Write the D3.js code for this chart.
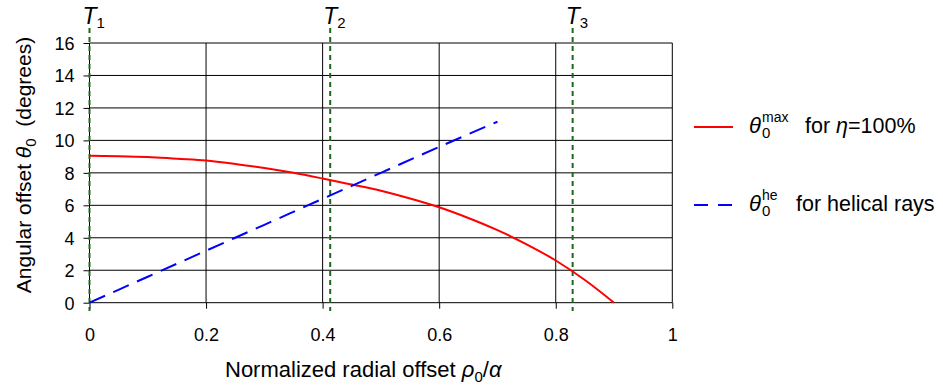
<!DOCTYPE html>
<html>
<head>
<meta charset="utf-8">
<script src="https://cdn.jsdelivr.net/npm/d3@7"></script>
<style>
body { margin: 0; background: #fff; }
svg { font-family: "Liberation Sans", Arial, sans-serif; }
</style>
</head>
<body>
<svg id="chart" width="943" height="388"></svg>
<script>
// normalized radial offset rho0/a and the max angular offset for 100% efficiency
const rhoMax = [0, 0.05, 0.1, 0.15, 0.2, 0.25, 0.3, 0.35, 0.4, 0.45, 0.5, 0.55, 0.6, 0.65, 0.7, 0.75, 0.8, 0.85, 0.9];
const thetaMax = [9.05, 9.03, 8.98, 8.87, 8.76, 8.55, 8.3, 8.0, 7.65, 7.28, 6.9, 6.42, 5.88, 5.22, 4.47, 3.6, 2.6, 1.4, 0];

// helical rays
const rhoHe = [0, 0.1, 0.2, 0.3, 0.4, 0.5, 0.6, 0.7];
const thetaHe = [0, 1.6, 3.2, 4.8, 6.4, 8.0, 9.6, 11.15];

const xTicks = [0, 0.2, 0.4, 0.6, 0.8, 1];
const yTicks = [0, 2, 4, 6, 8, 10, 12, 14, 16];

// transition points T1..T3
const tNames = ["1", "2", "3"];
const tRho = [0, 0.413, 0.829];

const svg = d3.select("#chart");

const x = d3.scaleLinear().domain([0, 1]).range([89.5, 672.3]);
const y = d3.scaleLinear().domain([0, 16]).range([302.7, 43]);

// grid
const grid = svg.append("g").attr("stroke", "#000").attr("stroke-width", 1);
grid.selectAll(".hg").data(yTicks).join("line")
    .attr("x1", x(0)).attr("x2", x(1))
    .attr("y1", d => y(d)).attr("y2", d => y(d));
grid.selectAll(".vg").data(xTicks).join("line")
    .attr("x1", d => x(d)).attr("x2", d => x(d))
    .attr("y1", y(16)).attr("y2", y(0));

// axes
let xAxis = svg.append("g")
    .attr("transform", `translate(0, ${y(0)})`)
    .call(d3.axisBottom(x).tickValues(xTicks).tickSize(6).tickFormat(d3.format("")));
xAxis.select(".domain").remove();
xAxis.selectAll("text")
    .attr("y", 38).attr("dy", 0)
    .attr("font-size", 18).attr("font-family", null).attr("fill", "#000");

let yAxis = svg.append("g")
    .attr("transform", `translate(${x(0)}, 0)`)
    .call(d3.axisLeft(y).tickValues(yTicks).tickSize(6).tickPadding(9));
yAxis.select(".domain").remove();
yAxis.selectAll("text")
    .attr("dy", "0.35em")
    .attr("font-size", 18).attr("font-family", null).attr("fill", "#000");

// T lines
const tg = svg.append("g");
tg.selectAll("line").data(tRho).join("line")
    .attr("x1", d => x(d)).attr("x2", d => x(d))
    .attr("y1", 28).attr("y2", 311)
    .attr("stroke", "#1b6a1b").attr("stroke-width", 2)
    .attr("stroke-dasharray", "5,4");
let tLab = tg.selectAll("text").data(tRho).join("text")
    .attr("x", d => x(d) - 7).attr("y", 24)
    .attr("font-size", 23);
tLab.append("tspan").attr("font-style", "italic").text("T");
tLab.append("tspan").attr("font-size", 15).attr("dy", 4).text((d, i) => tNames[i]);

// curves
const line = d3.line().x(d => x(d[0])).y(d => y(d[1])).curve(d3.curveMonotoneX);
svg.append("path")
    .datum(d3.zip(rhoMax, thetaMax))
    .attr("d", line)
    .attr("fill", "none").attr("stroke", "#ff0000").attr("stroke-width", 2);
svg.append("path")
    .datum(d3.zip(rhoHe, thetaHe))
    .attr("d", line)
    .attr("fill", "none").attr("stroke", "#0000ff").attr("stroke-width", 2)
    .attr("stroke-dasharray", "17,9");

// axis titles
let xt = svg.append("text").attr("x", 225).attr("y", 377).attr("font-size", 22);
xt.append("tspan").text("Normalized radial offset ");
xt.append("tspan").attr("font-style", "italic").text("ρ");
xt.append("tspan").attr("font-size", 15).attr("dy", 5).text("0");
xt.append("tspan").attr("dy", -5).text("/");
xt.append("tspan").attr("font-style", "italic").text("α");

let yt = svg.append("text")
    .attr("transform", "translate(31, 165) rotate(-90)")
    .attr("text-anchor", "middle").attr("font-size", 21)
    .attr("xml:space", "preserve");
yt.append("tspan").text("Angular offset ");
yt.append("tspan").attr("font-style", "italic").text("θ");
yt.append("tspan").attr("font-size", 15).attr("dy", 5).text("0");
yt.append("tspan").attr("dy", -5).text("  (degrees)");

// legend
const legend = svg.append("g");
legend.append("line")
    .attr("x1", 694).attr("x2", 733).attr("y1", 127).attr("y2", 127)
    .attr("stroke", "#ff0000").attr("stroke-width", 2);
legend.append("line")
    .attr("x1", 694).attr("x2", 733).attr("y1", 205).attr("y2", 205)
    .attr("stroke", "#0000ff").attr("stroke-width", 2)
    .attr("stroke-dasharray", "14,10");

function legendLabel(yBase, sup, rest, restX) {
    legend.append("text").attr("x", 749).attr("y", yBase)
        .attr("font-size", 22).attr("font-style", "italic").text("θ");
    legend.append("text").attr("x", 762).attr("y", yBase + 5)
        .attr("font-size", 15).text("0");
    legend.append("text").attr("x", 762).attr("y", yBase - 11)
        .attr("font-size", 14).text(sup);
    let t = legend.append("text").attr("x", restX).attr("y", yBase).attr("font-size", 21.5);
    rest(t);
}
legendLabel(133, "max", t => {
    t.append("tspan").text("for ");
    t.append("tspan").attr("font-style", "italic").text("η");
    t.append("tspan").text("=100%");
}, 805);
legendLabel(211, "he", t => {
    t.append("tspan").text("for helical rays");
}, 796);
</script>
</body>
</html>
